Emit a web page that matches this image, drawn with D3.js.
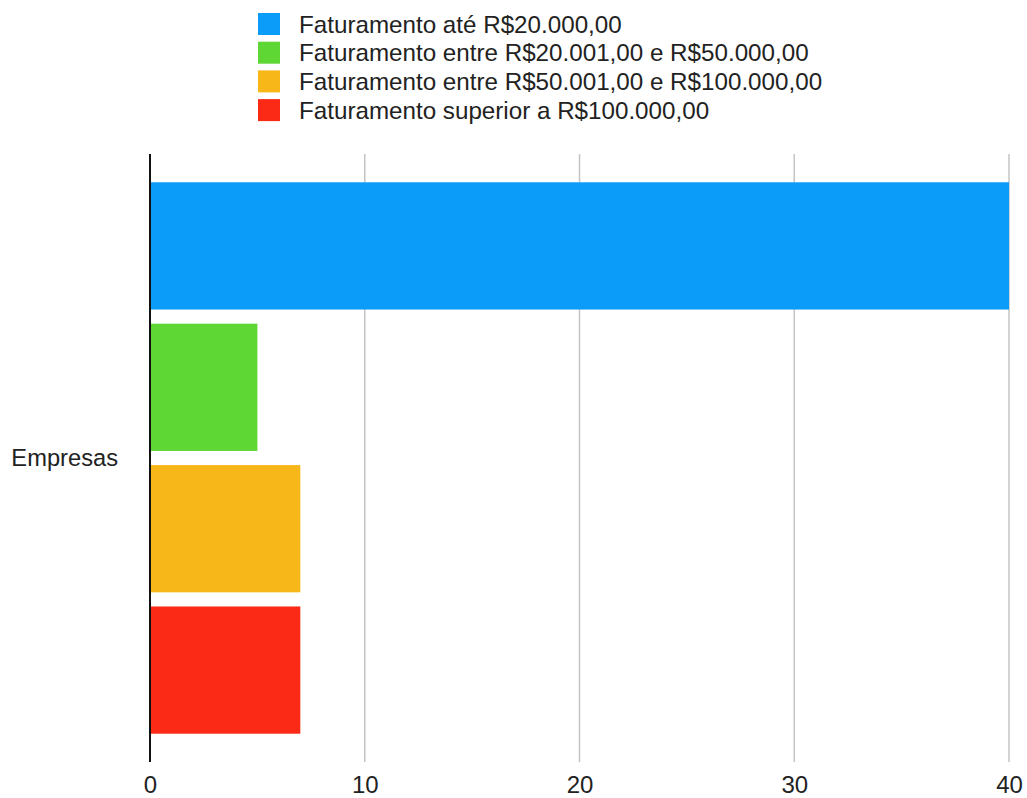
<!DOCTYPE html>
<html>
<head>
<meta charset="utf-8">
<script src="https://cdn.jsdelivr.net/npm/d3@7"></script>
<style>
  html, body { margin: 0; padding: 0; background: #fff; }
  svg { display: block; }
  text { font-family: "Liberation Sans", Arial, Helvetica, sans-serif; fill: #222; }
</style>
</head>
<body>
<svg id="chart" width="1027" height="798"></svg>
<script>
// Revenue brackets, one bar per bracket
const categories = ["Empresas"];
const series = [
  "Faturamento até R$20.000,00",
  "Faturamento entre R$20.001,00 e R$50.000,00",
  "Faturamento entre R$50.001,00 e R$100.000,00",
  "Faturamento superior a R$100.000,00"
];
const values = [40, 5, 7, 7];
const colors = ["#0b9bf9", "#5ed634", "#f8b719", "#fb2a16"];
const xTicks = [0, 10, 20, 30, 40];

const svg = d3.select("#chart");
const plotLeft = 150, plotRight = 1009, plotTop = 154, plotBottom = 762;

const x = d3.scaleLinear().domain([0, 40]).range([plotLeft, plotRight]);
const yCat = d3.scaleBand().domain(categories).range([plotTop, plotBottom]);
const ySer = d3.scaleBand().domain(series)
  .range([yCat(categories[0]), yCat(categories[0]) + yCat.bandwidth()])
  .paddingInner(0.1).paddingOuter(0.2);

// vertical gridlines
svg.append("g")
  .selectAll("line")
  .data(xTicks.filter(d => d > 0))
  .join("line")
  .attr("x1", d => x(d)).attr("x2", d => x(d))
  .attr("y1", plotTop).attr("y2", plotBottom)
  .attr("stroke", "#c4c4c4").attr("stroke-width", 1.5);

// bars
const rows = series.map((s, i) => ({ s, v: values[i], c: colors[i] }));
svg.append("g")
  .selectAll("rect")
  .data(rows)
  .join("rect")
  .attr("x", x(0))
  .attr("y", d => ySer(d.s))
  .attr("width", d => x(d.v) - x(0))
  .attr("height", ySer.bandwidth())
  .attr("fill", d => d.c);

// category axis line
svg.append("line")
  .attr("x1", x(0)).attr("x2", x(0))
  .attr("y1", plotTop).attr("y2", plotBottom)
  .attr("stroke", "#111").attr("stroke-width", 2);

// x tick labels
const xAxis = d3.axisBottom(x).tickValues(xTicks).tickSize(0).tickPadding(0);
const gx = svg.append("g").attr("transform", `translate(0,${plotBottom})`).call(xAxis);
gx.select(".domain").remove();
gx.selectAll("text")
  .attr("y", 31).attr("dy", 0)
  .style("font-size", "24px")
  .style("font-family", "'Liberation Sans', Arial, sans-serif")
  .attr("fill", "#222");

// category label
const yAxis = d3.axisLeft(yCat).tickSize(0).tickPadding(32);
const gy = svg.append("g").attr("transform", `translate(${plotLeft},0)`).call(yAxis);
gy.select(".domain").remove();
gy.selectAll("text")
  .style("font-size", "23.7px")
  .style("font-family", "'Liberation Sans', Arial, sans-serif")
  .attr("fill", "#222");

// legend
const legend = svg.append("g").attr("transform", "translate(258,24)");
const li = legend.selectAll("g")
  .data(rows)
  .join("g")
  .attr("transform", (d, i) => `translate(0,${i * 28.7})`);
li.append("rect")
  .attr("x", 0).attr("y", -11)
  .attr("width", 22).attr("height", 22)
  .attr("fill", d => d.c);
li.append("text")
  .attr("x", 41).attr("y", 8.5)
  .style("font-size", "24.2px")
  .text(d => d.s);
</script>
</body>
</html>
